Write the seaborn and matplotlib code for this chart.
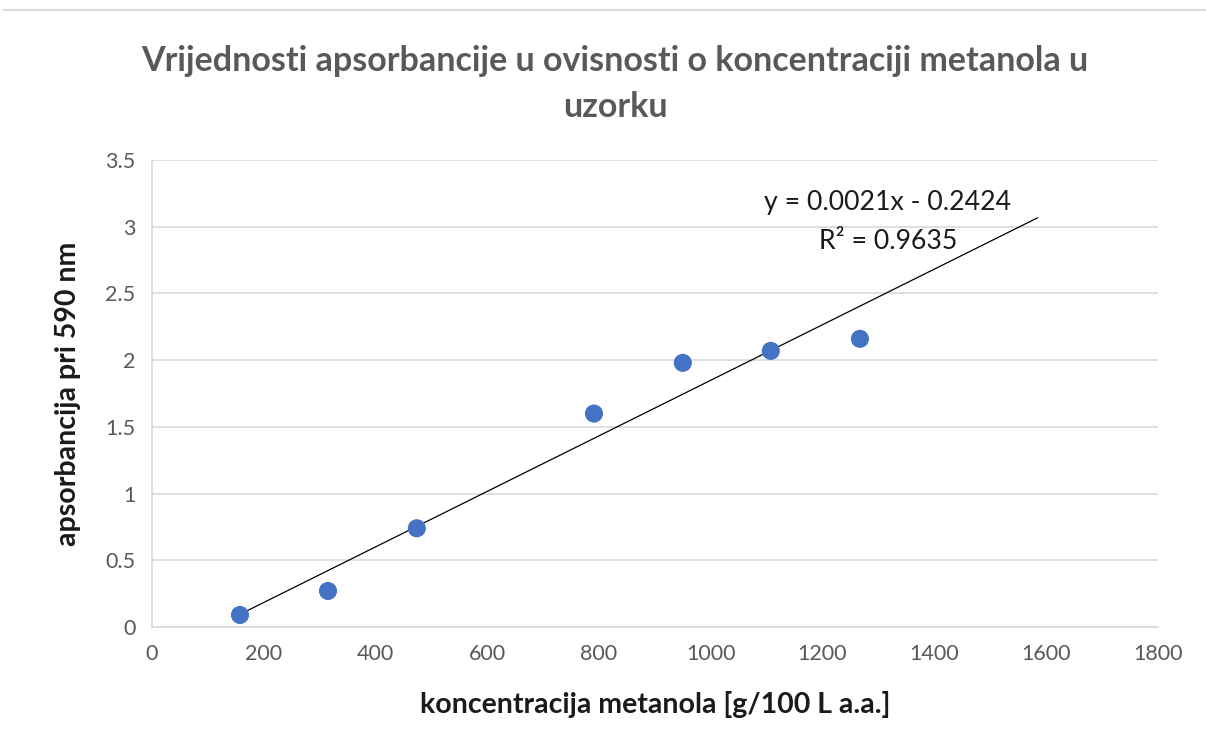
import numpy as np
import pandas as pd
import matplotlib.pyplot as plt
import seaborn as sns
from matplotlib.lines import Line2D

koncentracija = [157.5, 315, 474, 791, 950, 1107.5, 1267]
apsorbancija = [0.09, 0.27, 0.74, 1.60, 1.98, 2.07, 2.16]
trend_kraj = 1585
x_ticks = [0, 200, 400, 600, 800, 1000, 1200, 1400, 1600, 1800]
y_ticks = [0, 0.5, 1, 1.5, 2, 2.5, 3, 3.5]
y_tick_labels = ["0", "0.5", "1", "1.5", "2", "2.5", "3", "3.5"]

df = pd.DataFrame({"koncentracija": koncentracija, "apsorbancija": apsorbancija})

sns.set_style("white")
plt.rcParams["font.family"] = ["Lato", "DejaVu Sans"]

fig = plt.figure(figsize=(12.06, 7.31), dpi=100)
ax = fig.add_axes([0.126, 0.1423, 0.834, 0.6387])

# linearni trend
k, l = np.polyfit(df["koncentracija"], df["apsorbancija"], 1)
xt = np.array([df["koncentracija"].min(), trend_kraj])
ax.plot(xt, k * xt + l, color="black", lw=0.9, zorder=2)

sns.scatterplot(data=df, x="koncentracija", y="apsorbancija", ax=ax,
                color="#4472C4", s=170, edgecolor="none", zorder=3)

ax.set_xlim(0, 1800)
ax.set_ylim(0, 3.5)
ax.set_xticks(x_ticks)
ax.set_yticks(y_ticks)
ax.set_yticklabels(y_tick_labels)
ax.grid(axis="y", color="#d9d9d9", lw=1.2)
ax.set_axisbelow(True)
for s in ["top", "right"]:
    ax.spines[s].set_visible(False)
for s in ["left", "bottom"]:
    ax.spines[s].set_color("#d9d9d9")
    ax.spines[s].set_linewidth(1.2)
ax.tick_params(length=0, labelsize=15.5, colors="#595959", pad=12)

ax.set_xlabel("koncentracija metanola [g/100 L a.a.]", fontsize=20.5,
              fontweight="bold", color="#1a1a1a", labelpad=20)
ax.set_ylabel("apsorbancija pri 590 nm", fontsize=20.5,
              fontweight="bold", color="#1a1a1a", labelpad=17)

ax.text(1317, 3.18, "y = 0.0021x - 0.2424", ha="center", va="center",
        fontsize=19.2, color="#1a1a1a")
ax.text(1317, 2.89, "R² = 0.9635", ha="center", va="center",
        fontsize=19.2, color="#1a1a1a")

fig.text(0.51, 0.885, "Vrijednosti apsorbancije u ovisnosti o koncentraciji metanola u\nuzorku",
         ha="center", va="center", fontsize=24.5, fontweight="bold",
         color="#595959", linespacing=1.52)

fig.add_artist(Line2D([0.003, 1.0], [0.986, 0.986], color="#d9d9d9", lw=1.5))

fig.savefig("out.png", dpi=100)
